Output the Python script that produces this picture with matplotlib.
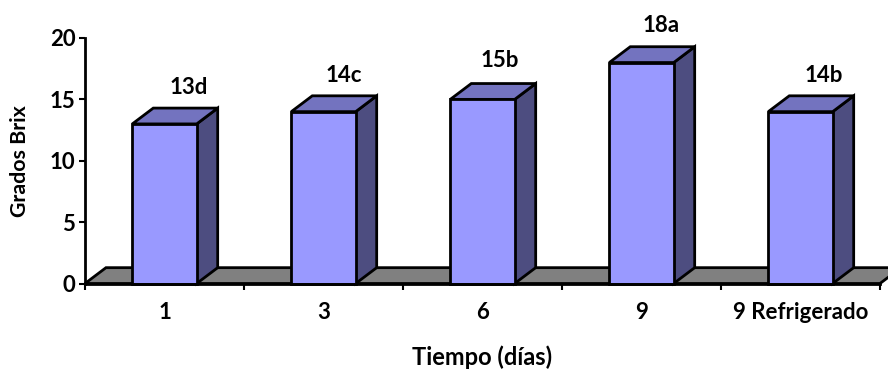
import matplotlib
matplotlib.use("Agg")
import matplotlib.pyplot as plt
from matplotlib.patches import Polygon

plt.rcParams["font.family"] = ["Lato", "DejaVu Sans"]
plt.rcParams["font.weight"] = "bold"

categories = ["1", "3", "6", "9", "9 Refrigerado"]
brix = [13, 14, 15, 18, 14]
labels = ["13d", "14c", "15b", "18a", "14b"]
label_nudge_x = [0.155, 0.13, 0.11, 0.123, 0.148]
label_nudge_y = [2.95, 2.95, 3.2, 3.05, 2.95]

FRONT = "#9999FF"
TOP = "#7373BF"
SIDE = "#4D4D80"
FLOOR = "#808080"
EDGE = "black"
LW = 2.0
FS = 16
BAR_W = 0.405
DX = 0.132   # oblique depth, horizontal (category units)
DY = 1.29    # oblique depth, vertical (Brix units)

W, H = 888, 370
fig = plt.figure(figsize=(W / 100, H / 100), dpi=100)
ax = fig.add_axes([85 / W, 1 - 283.5 / H, 795 / W, 245.5 / H])
ax.set_xlim(-0.5, 4.5)
ax.set_ylim(0, 20)


def face(points, color, z):
    ax.add_patch(Polygon(points, closed=True, facecolor=color, edgecolor=EDGE,
                         linewidth=LW, joinstyle="miter", zorder=z, clip_on=False))


# floor of the 3D box, running off the right edge of the figure
face([(-0.5, 0), (4.5, 0), (4.5 + DX, DY), (-0.5 + DX, DY)], FLOOR, 1)

for i, v in enumerate(brix):
    x0, x1 = i - BAR_W / 2, i + BAR_W / 2
    face([(x1, 0), (x1 + DX, DY), (x1 + DX, v + DY), (x1, v)], SIDE, 3)
    face([(x0, v), (x1, v), (x1 + DX, v + DY), (x0 + DX, v + DY)], TOP, 3)
    face([(x0, 0), (x1, 0), (x1, v), (x0, v)], FRONT, 4)
    ax.text(i + label_nudge_x[i], v + label_nudge_y[i], labels[i],
            ha="center", va="center", fontsize=FS, fontweight="bold", color="black")

for side in ("top", "right"):
    ax.spines[side].set_visible(False)
for side in ("left", "bottom"):
    ax.spines[side].set_linewidth(LW)
    ax.spines[side].set_zorder(6)

ax.set_yticks(range(0, 21, 5))
ax.set_xticks([i - 0.5 for i in range(6)])
ax.set_xticklabels([])
ax.set_xticks(range(5), labels=categories, minor=True)
ax.tick_params(axis="x", which="major", length=4, width=1.5, zorder=6)
ax.tick_params(axis="x", which="minor", length=0, pad=13, labelsize=FS)
ax.tick_params(axis="y", length=4, width=1.5, pad=3, labelsize=FS)
for t in ax.get_xticklabels(minor=True) + ax.get_yticklabels():
    t.set_fontweight("bold")

fig.text(482 / W, 1 - 357 / H, "Tiempo (días)", ha="center", va="center",
         fontsize=17, fontweight="bold")
fig.text(20 / W, 1 - 161 / H, "Grados Brix", ha="center", va="center",
         rotation=90, fontsize=15.4, fontweight="bold")

fig.savefig("out.png", dpi=100)
